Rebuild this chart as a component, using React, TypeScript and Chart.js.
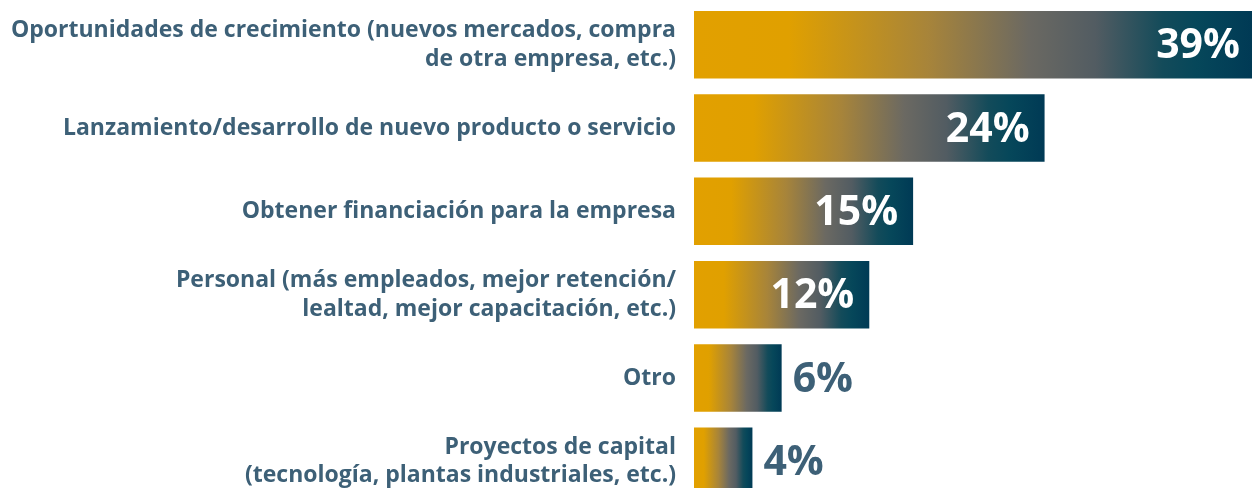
import React, { useEffect, useRef } from "react";
import { Chart, registerables } from "chart.js";

Chart.register(...registerables);

const categories: string[][] = [
  ["Oportunidades de crecimiento (nuevos mercados, compra", "de otra empresa, etc.)"],
  ["Lanzamiento/desarrollo de nuevo producto o servicio"],
  ["Obtener financiación para la empresa"],
  ["Personal (más empleados, mejor retención/", "lealtad, mejor capacitación, etc.)"],
  ["Otro"],
  ["Proyectos de capital", "(tecnología, plantas industriales, etc.)"],
];
const values: number[] = [39, 24, 15, 12, 6, 4];
const valueLabels: string[] = ["39%", "24%", "15%", "12%", "6%", "4%"];

const LABEL_COLOR = "#3D6077";
const FONT = "'Open Sans', 'Noto Sans', sans-serif";

const gradientStops: [number, string][] = [
  [0, "#E2A000"],
  [0.17, "#E0A000"],
  [0.42, "#A7843A"],
  [0.6, "#6B6962"],
  [0.72, "#525C62"],
  [0.84, "#134B5A"],
  [0.9, "#06475A"],
  [1, "#003A55"],
];

const valueLabelPlugin = {
  id: "valueLabels",
  afterDatasetsDraw(chart: any) {
    const ctx = chart.ctx;
    const meta = chart.getDatasetMeta(0);
    const area = chart.chartArea;
    ctx.save();
    ctx.font = `bold 41px ${FONT}`;
    ctx.textBaseline = "middle";
    meta.data.forEach((bar: any, i: number) => {
      const v = values[i];
      const y = bar.y + 2;
      if (v >= 10) {
        ctx.fillStyle = "#FFFFFF";
        ctx.textAlign = "right";
        const xr = Math.min(bar.x - 15, area.right - 12);
        ctx.fillText(valueLabels[i], xr, y);
      } else {
        ctx.fillStyle = LABEL_COLOR;
        ctx.textAlign = "left";
        ctx.fillText(valueLabels[i], bar.x + 11, y);
      }
    });
    ctx.restore();
  },
};

export default function App() {
  const canvasRef = useRef<HTMLCanvasElement | null>(null);

  useEffect(() => {
    let chart: Chart | null = null;
    let cancelled = false;
    const create = () => {
      if (cancelled || !canvasRef.current) return;
      chart = new Chart(canvasRef.current, {
        type: "bar",
        data: {
          labels: categories as any,
          datasets: [
            {
              data: values,
              backgroundColor: (c: any) => {
                const ch = c.chart;
                const xs = ch.scales && ch.scales.x;
                if (!xs || c.raw == null || !ch.chartArea) return "#E2A000";
                const x0 = xs.getPixelForValue(0);
                const x1 = Math.min(xs.getPixelForValue(c.raw), ch.chartArea.right);
                const g = ch.ctx.createLinearGradient(x0, 0, x1, 0);
                gradientStops.forEach(([o, col]) => g.addColorStop(o, col));
                return g;
              },
              borderWidth: 0,
              barPercentage: 0.81,
              categoryPercentage: 1,
            },
          ],
        },
        options: {
          indexAxis: "y",
          responsive: false,
          animation: false,
          layout: { padding: { top: 3, bottom: 0, left: 0, right: 0 } },
          plugins: {
            legend: { display: false },
            tooltip: { enabled: false },
          },
          scales: {
            x: {
              display: false,
              min: 0,
              max: 38.2,
            },
            y: {
              grid: { display: false, drawTicks: false },
              border: { display: false },
              afterFit: (scale: any) => {
                scale.width = 694;
                scale.paddingTop = 0;
                scale.paddingBottom = 0;
              },
              ticks: {
                padding: 18,
                color: LABEL_COLOR,
                font: { family: FONT, size: 23, weight: "bold", lineHeight: 1.25 },
              },
            },
          },
        },
        plugins: [valueLabelPlugin],
      } as any);
    };
    const fontsReady = (document as any).fonts
      ? Promise.all([
          (document as any).fonts.load(`bold 23px 'Open Sans'`),
          (document as any).fonts.load(`bold 41px 'Open Sans'`),
        ]).catch(() => null)
      : Promise.resolve(null);
    fontsReady.then(create);
    return () => {
      cancelled = true;
      if (chart) chart.destroy();
    };
  }, []);

  return (
    <div
      style={{
        position: "fixed",
        left: 0,
        top: 0,
        width: 1252,
        height: 488,
        overflow: "hidden",
        background: "#ffffff",
      }}
    >
      <canvas ref={canvasRef} width={1252} height={503} style={{ display: "block" }} />
    </div>
  );
}
